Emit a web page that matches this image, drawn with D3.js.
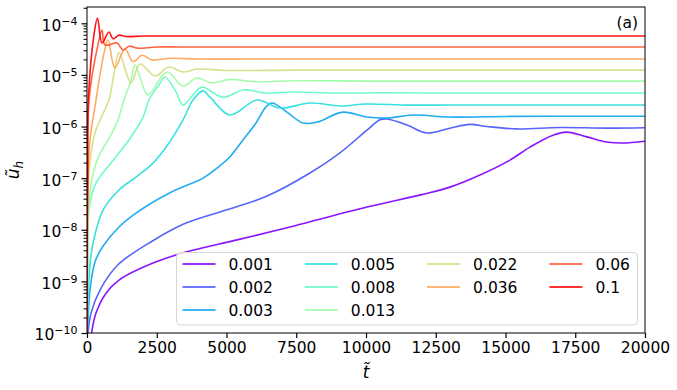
<!DOCTYPE html>
<meta charset="utf-8">
<title>u_h vs t</title>
<style>
  body { margin: 0; background: #fff; }
  text { font-family: "DejaVu Sans", sans-serif; fill: #000; }
</style>
<div id="viz"></div>
<script src="https://cdnjs.cloudflare.com/ajax/libs/d3/7.8.5/d3.min.js"></script>
<script>

// legend labels (one per curve)
var labels = ["0.001", "0.002", "0.003", "0.005", "0.008", "0.013", "0.022", "0.036", "0.06", "0.1"];

// curves as [t, u_h]
var u001 = [[150, 8e-11], [180, 1.14e-10], [323, 2.43e-10], [681, 5.9e-10], [1147, 1.06e-9], [2365, 2.26e-9],
  [3548, 3.7e-9], [5340, 6.3e-9], [7132, 1.08e-8], [10035, 2.75e-8], [12000, 4.8e-8], [13010, 6.7e-8],
  [14085, 1.15e-7], [15160, 2.24e-7], [15877, 4.0e-7], [16701, 6.8e-7], [17203, 7.8e-7], [17920, 6.3e-7],
  [18637, 5.0e-7], [19210, 4.8e-7], [20000, 5.2e-7]];
var u002 = [[20, 8e-11], [143, 2.4e-10], [466, 6.8e-10], [1110, 2.1e-9], [2330, 6.0e-9], [3548, 1.35e-8],
  [5340, 2.75e-8], [6451, 4.5e-8], [7992, 1.26e-7], [9068, 3.1e-7], [10035, 8.5e-7],
  [10501, 1.35e-6], [10752, 1.4e-6], [11469, 1.07e-6], [12186, 7.5e-7], [13010, 9.3e-7], [13727, 1.1e-6],
  [14336, 1.0e-6], [15411, 9.0e-7], [16952, 9.6e-7], [18637, 9.3e-7], [20000, 9.5e-7]];
var u003 = [[5, 8e-11], [36, 1.8e-10], [108, 6.8e-10], [287, 2.4e-9], [573, 4.8e-9], [1147, 1.13e-8], [1756, 2.1e-8],
  [2939, 5.1e-8], [4157, 1.0e-7], [4650, 1.55e-7], [5125, 2.6e-7], [5591, 5.5e-7], [6057, 1.17e-6], [6415, 2.4e-6],
  [6630, 2.85e-6], [7168, 1.9e-6], [7741, 1.17e-6], [8243, 1.22e-6], [9175, 1.9e-6], [10035, 1.53e-6],
  [10752, 1.46e-6], [11684, 1.67e-6], [13010, 1.53e-6], [15000, 1.57e-6], [17500, 1.58e-6], [20000, 1.58e-6]];
var u005 = [[2, 8e-11], [36, 4.3e-10], [108, 2.1e-9], [215, 5.5e-9], [573, 2.4e-8], [1147, 5.9e-8], [1756, 1.05e-7],
  [2365, 1.96e-7], [2939, 4.8e-7], [3441, 1.34e-6], [3799, 3.26e-6], [4157, 4.9e-6], [4408, 3.7e-6],
  [5125, 1.67e-6], [6093, 3.26e-6], [6917, 2.28e-6], [7992, 2.85e-6], [9068, 2.5e-6], [10035, 2.73e-6],
  [11500, 2.6e-6], [13010, 2.61e-6], [15000, 2.62e-6], [17500, 2.62e-6], [20000, 2.62e-6]];
var u008 = [[1, 8e-11], [36, 3e-9], [72, 2.5e-8], [323, 8.0e-8], [932, 2.2e-7], [1505, 5.5e-7], [2007, 1.5e-6],
  [2222, 3.3e-6], [2580, 6.4e-6], [2796, 9.1e-6], [3190, 4.7e-6], [3441, 2.6e-6], [3799, 4.1e-6],
  [4120, 5.8e-6], [4874, 3.7e-6], [5591, 5.1e-6], [6451, 4.46e-6], [7383, 4.67e-6], [8817, 4.46e-6],
  [10500, 4.5e-6], [12500, 4.46e-6], [15000, 4.46e-6], [17500, 4.46e-6], [20000, 4.46e-6]];
var u013 = [[1, 8e-11], [20, 2e-9], [50, 2e-8], [150, 8e-8], [400, 2.5e-7], [800, 6e-7], [1100, 1.3e-6],
  [1326, 3.26e-6], [1577, 8e-6], [1720, 1.56e-5], [1900, 9e-6], [2186, 4.1e-6], [2867, 1.14e-5],
  [3441, 6.1e-6], [3943, 8.7e-6], [4480, 7.0e-6], [5125, 8.2e-6], [6000, 7.4e-6], [7500, 7.7e-6],
  [10000, 7.6e-6], [12500, 7.6e-6], [15000, 7.6e-6], [17500, 7.6e-6], [20000, 7.6e-6]];
var u022 = [[0.5, 8e-11], [10, 2e-9], [30, 3e-8], [100, 2e-7], [300, 8e-7], [788, 3.3e-6], [960, 1e-5],
  [1147, 2.7e-5], [1577, 7e-6], [1900, 1.63e-5], [2437, 9.5e-6], [2939, 1.42e-5], [3441, 1.14e-5],
  [3943, 1.3e-5], [5000, 1.22e-5], [7500, 1.24e-5], [10000, 1.24e-5], [12500, 1.24e-5], [15000, 1.24e-5],
  [17500, 1.24e-5], [20000, 1.24e-5]];
var u036 = [[0.3, 8e-11], [8, 2e-9], [20, 5e-8], [100, 5e-7], [323, 3.26e-6], [600, 2.5e-5], [753, 4.8e-5],
  [1000, 1.36e-5], [1360, 3.2e-5], [1650, 1.8e-5], [1970, 2.4e-5], [2330, 1.95e-5], [3000, 2.1e-5],
  [4000, 2.03e-5], [6000, 2.03e-5], [9000, 2.03e-5], [12500, 2.03e-5], [16000, 2.03e-5], [20000, 2.03e-5]];
var u06 = [[0.2, 8e-11], [5, 3e-9], [30, 1e-7], [72, 3.3e-6], [400, 4e-5], [538, 7.4e-5], [645, 3.8e-5],
  [1075, 4.15e-5], [1290, 3.04e-5], [1505, 3.6e-5], [1800, 3.3e-5], [2500, 3.47e-5], [4000, 3.47e-5],
  [7000, 3.47e-5], [10000, 3.47e-5], [14000, 3.47e-5], [17000, 3.47e-5], [20000, 3.47e-5]];
var u1 = [[0.1, 8e-11], [3, 3e-9], [20, 1e-7], [50, 3.3e-6], [250, 6e-5], [376, 1.27e-4], [538, 4.15e-5],
  [788, 6.8e-5], [932, 5.0e-5], [1147, 5.9e-5], [1400, 5.55e-5], [2000, 5.67e-5], [3500, 5.67e-5],
  [6000, 5.67e-5], [10000, 5.67e-5], [14000, 5.67e-5], [17000, 5.67e-5], [20000, 5.67e-5]];

var series = [u001, u002, u003, u005, u008, u013, u022, u036, u06, u1];

// axis ticks
var xTicks = [0, 2500, 5000, 7500, 10000, 12500, 15000, 17500, 20000];
var yExps = [-10, -9, -8, -7, -6, -5, -4];

var width = 677;
var height = 390;
var mLeft = 87, mRight = 645, mTop = 7, mBottom = 333;

// matplotlib "rainbow" colormap
function rainbow(v) {
  var r = Math.min(1, Math.abs(2 * v - 0.5));
  var g = Math.sin(Math.PI * v);
  var b = Math.cos(Math.PI * v / 2);
  return d3.rgb(r * 255, g * 255, b * 255).formatHex();
}
var colors = labels.map(function(d, i) { return rainbow(i / (labels.length - 1)); });

var svg = d3.select("#viz")
  .append("svg")
  .attr("width", width)
  .attr("height", height);

var x = d3.scaleLinear().domain([0, 20000]).range([mLeft, mRight]);
var y = d3.scaleLog().domain([1e-10, 2.07e-4]).range([mBottom, mTop]);

svg.append("clipPath").attr("id", "clip")
  .append("rect")
  .attr("x", mLeft).attr("y", mTop)
  .attr("width", mRight - mLeft).attr("height", mBottom - mTop);

var line = d3.line()
  .x(function(d) { return x(d[0]); })
  .y(function(d) { return y(d[1]); })
  .curve(d3.curveCatmullRom.alpha(0.5));

svg.append("g")
  .attr("clip-path", "url(#clip)")
  .selectAll("path")
  .data(series)
  .enter().append("path")
  .attr("d", line)
  .attr("fill", "none")
  .attr("stroke", function(d, i) { return colors[i]; })
  .attr("stroke-opacity", 0.92)
  .attr("stroke-width", 1.6);

// frame
svg.append("rect")
  .attr("x", mLeft).attr("y", mTop)
  .attr("width", mRight - mLeft).attr("height", mBottom - mTop)
  .attr("fill", "none")
  .attr("stroke", "#000")
  .attr("stroke-width", 1);

// x axis
var xAxis = svg.append("g")
  .attr("transform", "translate(0," + mBottom + ")")
  .call(d3.axisBottom(x).tickValues(xTicks).tickSize(5).tickPadding(4).tickFormat(d3.format("d")));
xAxis.select(".domain").remove();
xAxis.selectAll("text").attr("font-size", 15.5).attr("font-family", "DejaVu Sans");
xAxis.selectAll("line").attr("stroke-width", 1.2);

// y axis: minor ticks
var minor = [];
for (var e = -10; e <= -4; e++) {
  for (var k = 2; k <= 9; k++) {
    var v = k * Math.pow(10, e);
    if (v <= y.domain()[1]) minor.push(v);
  }
}
var yMinor = svg.append("g")
  .attr("transform", "translate(" + mLeft + ",0)")
  .call(d3.axisLeft(y).tickValues(minor).tickSize(3.5).tickFormat(""));
yMinor.select(".domain").remove();
yMinor.selectAll("line").attr("stroke-width", 1);

// y axis: major ticks with 10^n labels
var yAxis = svg.append("g")
  .attr("transform", "translate(" + mLeft + ",0)")
  .call(d3.axisLeft(y).tickValues(yExps.map(function(e) { return Math.pow(10, e); }))
    .tickSize(5.5).tickPadding(4).tickFormat(""));
yAxis.select(".domain").remove();
yAxis.selectAll("line").attr("stroke-width", 1.2);
yAxis.selectAll(".tick text")
  .attr("font-size", 15.5)
  .attr("dy", "0.45em")
  .each(function(d) {
    var t = d3.select(this);
    var ex = Math.round(Math.log10(d));
    t.append("tspan").text("10");
    t.append("tspan").attr("dy", "-0.55em").attr("font-size", "11px").text("\u2212" + Math.abs(ex));
  });

// axis labels
svg.append("text")
  .attr("x", (mLeft + mRight) / 2)
  .attr("y", 378)
  .attr("text-anchor", "middle")
  .attr("font-size", 17)
  .attr("font-style", "italic")
  .text("t\u0303");

var yl = svg.append("text")
  .attr("transform", "translate(19," + ((mTop + mBottom) / 2) + ") rotate(-90)")
  .attr("text-anchor", "middle")
  .attr("font-size", 17)
  .attr("font-style", "italic");
yl.append("tspan").text("u\u0303");
yl.append("tspan").attr("dy", "0.3em").attr("font-size", 12).text("h");

svg.append("text")
  .attr("x", 638)
  .attr("y", 28)
  .attr("text-anchor", "end")
  .attr("font-size", 15.5)
  .text("(a)");

// legend: 4 columns filled top-down, 3 + 3 + 2 + 2
var colStart = [0, 3, 6, 8];
var lg = svg.append("g");
lg.append("rect")
  .attr("x", 176.5).attr("y", 252.5)
  .attr("width", 461).attr("height", 72.5)
  .attr("rx", 4)
  .attr("fill", "#fff").attr("fill-opacity", 0.8)
  .attr("stroke", "#d6d6d6");

var items = lg.selectAll("g.item")
  .data(labels)
  .enter().append("g")
  .attr("transform", function(d, i) {
    var col = d3.bisectRight(colStart, i) - 1, row = i - colStart[col];
    return "translate(" + (182.5 + col * 122.3) + "," + (264 + row * 23) + ")";
  });
items.append("line")
  .attr("x1", 0).attr("x2", 33)
  .attr("stroke", function(d, i) { return colors[i]; })
  .attr("stroke-opacity", 0.8)
  .attr("stroke-width", 2);
items.append("text")
  .attr("x", 46)
  .attr("dy", "0.36em")
  .attr("font-size", 15.5)
  .text(function(d) { return d; });

</script>
